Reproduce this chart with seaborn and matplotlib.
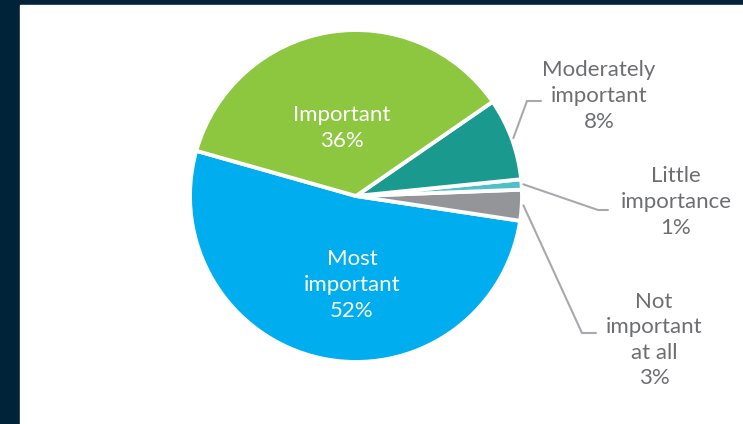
import matplotlib
matplotlib.use('Agg')
import matplotlib.pyplot as plt
import seaborn as sns
import numpy as np

# slices, counterclockwise from the left edge of the blue slice
labels = ['Most\nimportant', 'Not\nimportant\nat all', 'Little\nimportance',
          'Moderately\nimportant', 'Important']
shares = [52, 3, 1, 8, 36]
colors = ['#00aeef', '#939598', '#4fc1c6', '#1a9a8e', '#8dc63f']

sns.set_theme(style='white')
plt.rcParams['font.family'] = ['Lato', 'DejaVu Sans']

W, H = 743, 424
fig = plt.figure(figsize=(W / 100, H / 100), dpi=100, facecolor='#00233a')
# white panel behind the axes (axis off hides the axes patch)
fig.patches.append(plt.Rectangle((20 / W, 0), (W - 20) / W, (H - 5) / H,
                                 transform=fig.transFigure, color='white', zorder=-5))
# axes in pixel-like units (y up)
ax = fig.add_axes([20 / W, 0, (W - 20) / W, (H - 5) / H])

cx, cy, r = 356, H - 196, 166
wedges, _ = ax.pie(shares, colors=colors, startangle=164.2, counterclock=True,
                   center=(cx, cy), radius=r, frame=True,
                   wedgeprops=dict(edgecolor='white', linewidth=2.8))
ax.set_xlim(20, W)
ax.set_ylim(0, H - 5)
ax.set_axis_off()

txt = dict(fontsize=16, ha='center', va='center', linespacing=1.35)

# labels inside the big slices
ax.text(342, H - 128, f'{labels[4]}\n{shares[4]}%', color='white', **txt)
ax.text(352, H - 285, f'{labels[0]}\n{shares[0]}%', color='white', **txt)

# outside labels with leader lines
outside = {
    3: ((599, H - 96), (527, H - 101), (541, H - 101)),
    2: ((676, H - 202), (598, H - 210), (608, H - 210)),
    1: ((654, H - 340), (582, H - 333), (596, H - 333)),
}
for i, (tpos, elbow, end) in outside.items():
    w = wedges[i]
    ang = np.deg2rad((w.theta1 + w.theta2) / 2)
    start = (cx + r * 1.01 * np.cos(ang), cy + r * 1.01 * np.sin(ang))
    ax.plot([start[0], elbow[0], end[0]], [start[1], elbow[1], end[1]],
            color='#a7a9ac', lw=1.5, solid_joinstyle='miter')
    ax.text(tpos[0], tpos[1], f'{labels[i]}\n{shares[i]}%', color='#6d6e71', **txt)

fig.savefig('out.png', dpi=100, facecolor=fig.get_facecolor())
